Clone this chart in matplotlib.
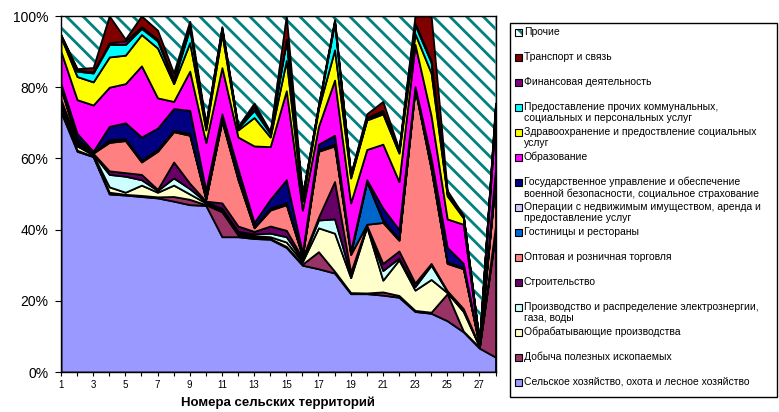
import matplotlib
matplotlib.use("Agg")
import matplotlib.pyplot as plt
from matplotlib.patches import Rectangle

plt.rcParams['font.family'] = ['Liberation Sans', 'DejaVu Sans']
plt.rcParams['hatch.linewidth'] = 2.0

W, H = 779, 412

## Data: shares (%) of employment by sector, per rural territory
territories = list(range(1, 29))

agri = [73, 62, 60.5, 50, 49.7, 49.3, 48.9, 48, 47, 46.8, 38, 38, 37.5, 37.3, 35, 30, 29, 27.8, 22, 22, 21.6, 21, 17, 16.5, 14.4, 11.3, 6.7, 4.2]
mining = [1.5, 0.3, 0.1, 0.5, 0.2, 0.3, 0.3, 1.3, 1.5, 0.2, 7, 0.5, 0.3, 0.2, 0.3, 0.3, 4.8, 0.5, 0.3, 0.2, 0.9, 0.5, 0.3, 0.3, 7.6, 0.2, 0.2, 34.8]
manuf = [0.5, 1.2, 0.4, 1.5, 0.6, 2.9, 1.3, 3.2, 1.5, 0.5, 0.5, 0.5, 0.5, 0.5, 1.2, 0.7, 6.7, 10.7, 4.2, 18.6, 3.3, 10, 5.7, 9.2, 0.3, 5.5, 0.2, 0.5]
energy = [0.5, 0.5, 0.2, 3.5, 4.5, 1.5, 0.5, 2.0, 1.5, 0.3, 0.5, 0.5, 0.5, 1.0, 1.5, 0.5, 2.2, 4, 0.8, 0.2, 2.7, 0.5, 1, 4, 0.3, 0.5, 0.1, 1.0]
constr = [1.0, 0.5, 0.2, 1.0, 1.0, 1.5, 0.3, 4.5, 1.5, 0.2, 1.5, 1.5, 0.7, 2.0, 1.8, 0.5, 0.8, 10.5, 0.7, 0.2, 2.0, 2, 1, 0.5, 0.2, 0.3, 0.1, 0.5]
trade = [3.0, 0.5, 0.1, 8.0, 9.0, 3.5, 10.7, 8.5, 13.5, 0.5, 23, 13, 1.0, 4.5, 7.2, 0.5, 18.5, 10, 5, 0.3, 11.5, 3, 54.5, 26.5, 7.7, 11.2, 0.1, 13]
hotels = [0.3, 0.3, 0.1, 0.5, 0.3, 0.3, 0.3, 0.2, 0.3, 0.2, 0.2, 0.3, 0.2, 0.3, 0.3, 0.2, 0.3, 0.3, 0.3, 12, 0.5, 0.2, 0.2, 0.3, 0.2, 0.2, 0.1, 0.3]
realty = [0.2, 0.2, 0.1, 0.3, 0.2, 0.2, 0.2, 0.2, 0.2, 0.2, 0.2, 0.2, 0.2, 0.2, 0.3, 0.2, 0.2, 0.2, 0.2, 0.2, 0.3, 0.2, 0.2, 0.2, 0.2, 0.2, 0.1, 0.2]
govern = [1.0, 1.5, 0.3, 3.7, 4.5, 6.5, 6.0, 6.1, 6.5, 2.1, 1.6, 2.5, 1.1, 2.5, 6.4, 0.6, 1.5, 2.5, 0.5, 0.3, 3.2, 2.6, 0.3, 2.5, 4.1, 1.1, 0.1, 2.5]
educ = [9.0, 9.5, 13, 11, 11, 20, 8.5, 2.0, 11, 13.5, 13, 9, 21.5, 14.8, 25, 12, 5, 15.5, 13.5, 8.5, 18, 13.5, 11.8, 12, 8, 11, 0.2, 15]
health = [4.0, 6.5, 6.5, 8.5, 8, 8.8, 14, 5.0, 8, 3.5, 9.5, 2, 8, 2.7, 8.5, 2.5, 5, 8.5, 7, 8.3, 8.5, 8, 3, 12, 6.5, 1.8, 0.2, 2]
services = [0.3, 1.5, 2.5, 3.5, 3, 1.7, 2, 0.8, 4, 1.0, 1, 0.5, 2, 1.0, 5.5, 1, 0.5, 7.5, 0.5, 0.4, 0.5, 0.5, 2.5, 3, 0.5, 0.3, 0.1, 0.5]
finance = [0.2, 0.3, 0.3, 0.5, 1, 0.5, 0.5, 0.5, 0.5, 0.3, 0.5, 0.3, 1, 0.3, 0.5, 0.3, 0.3, 0.5, 0.3, 0.3, 0.5, 0.3, 0.5, 0.5, 0.3, 0.2, 0.1, 0.5]
transport = [0.2, 0.4, 1.2, 7.5, 0.5, 3.0, 2.5, 1.7, 1.5, 0.5, 0.5, 0.2, 1, 0.2, 6.5, 0.3, 0.2, 0.5, 0.2, 1.0, 2.5, 0.3, 2, 12.5, 0.7, 0.2, 0.1, 0.5]
other = [5.3, 14.8, 14.5, 0, 6.5, 0, 4, 16, 1.5, 30.2, 3, 31, 24.5, 32.5, 0, 50.4, 25, 1, 44.5, 27.5, 24, 37.4, 0, 0, 49, 56, 91.6, 24.5]

series = [agri, mining, manuf, energy, constr, trade, hotels, realty,
          govern, educ, health, services, finance, transport, other]

names = ["Сельское хозяйство, охота и лесное хозяйство",
         "Добыча полезных ископаемых",
         "Обрабатывающие производства",
         "Производство и распределение электрознергии,\nгаза, воды",
         "Строительство",
         "Оптовая и розничная торговля",
         "Гостиницы и рестораны",
         "Операции с недвижимым имуществом, аренда и\nпредоставление услуг",
         "Государственное управление и обеспечение\nвоенной безопасности, социальное страхование",
         "Образование",
         "Здравоохранение и предоствление социальных\nуслуг",
         "Предоставление прочих коммунальных,\nсоциальных и персональных услуг",
         "Финансовая деятельность",
         "Транспорт и связь",
         "Прочие"]

colors = ['#9999FF', '#993366', '#FFFFCC', '#CCFFFF', '#660066', '#FF8080',
          '#0066CC', '#CCCCFF', '#000080', '#FF00FF', '#FFFF00', '#00FFFF',
          '#800080', '#800000', 'white']

hatch_col = '#008080'

fig = plt.figure(figsize=(W / 100, H / 100), dpi=100)
ax = fig.add_axes([61 / W, 1 - 372 / H, (495.5 - 61) / W, (372 - 16) / H])

polys = ax.stackplot(territories, *series, colors=colors,
                     edgecolor='black', linewidth=1.3)
# "Прочие" is hatched teal on white, drawn under the black borders
polys[-1].set_hatch('\\\\')
polys[-1].set_edgecolor(hatch_col)
polys[-1].set_linewidth(0.3)
polys[-1].set_zorder(0.5)

ax.set_xlim(1, 28)
ax.set_ylim(0, 100)
ax.set_yticks(range(0, 101, 20))
ax.set_yticklabels([f"{v}%" for v in range(0, 101, 20)])
ax.set_xticks(territories)
ax.set_xticklabels([str(t) if t % 2 == 1 else '' for t in territories])
ax.tick_params(axis='x', length=3, labelsize=7, pad=3)
ax.tick_params(axis='y', length=4, labelsize=10, pad=5)
for sp in ax.spines.values():
    sp.set_linewidth(1)
ax.set_xlabel("Номера сельских территорий", fontsize=9.5, fontweight='bold', labelpad=4.5)

## Legend (drawn by hand, marker next to first text line)
fig.add_artist(Rectangle((510 / W, 1 - 397 / H), (777 - 510) / W, (397 - 23) / H,
                         transform=fig.transFigure, fill=False,
                         edgecolor='black', linewidth=1))
for i, (name, col) in enumerate(zip(names[::-1], colors[::-1])):
    cy = 32 + 25 * i
    box = (515 / W, 1 - (cy + 3.5) / H)
    if i == 0:
        fig.add_artist(Rectangle(box, 7 / W, 7 / H, transform=fig.transFigure,
                                 facecolor='white', edgecolor=hatch_col,
                                 hatch='\\\\\\', linewidth=0))
        fig.add_artist(Rectangle(box, 7 / W, 7 / H, transform=fig.transFigure,
                                 fill=False, edgecolor='black', linewidth=0.8))
    else:
        fig.add_artist(Rectangle(box, 7 / W, 7 / H, transform=fig.transFigure,
                                 facecolor=col, edgecolor='black', linewidth=0.8))
    fig.text(524 / W, 1 - (cy - 5) / H, name, fontsize=7.5, ha='left',
             va='top', linespacing=1.08)

fig.savefig('out.png', dpi=100)
